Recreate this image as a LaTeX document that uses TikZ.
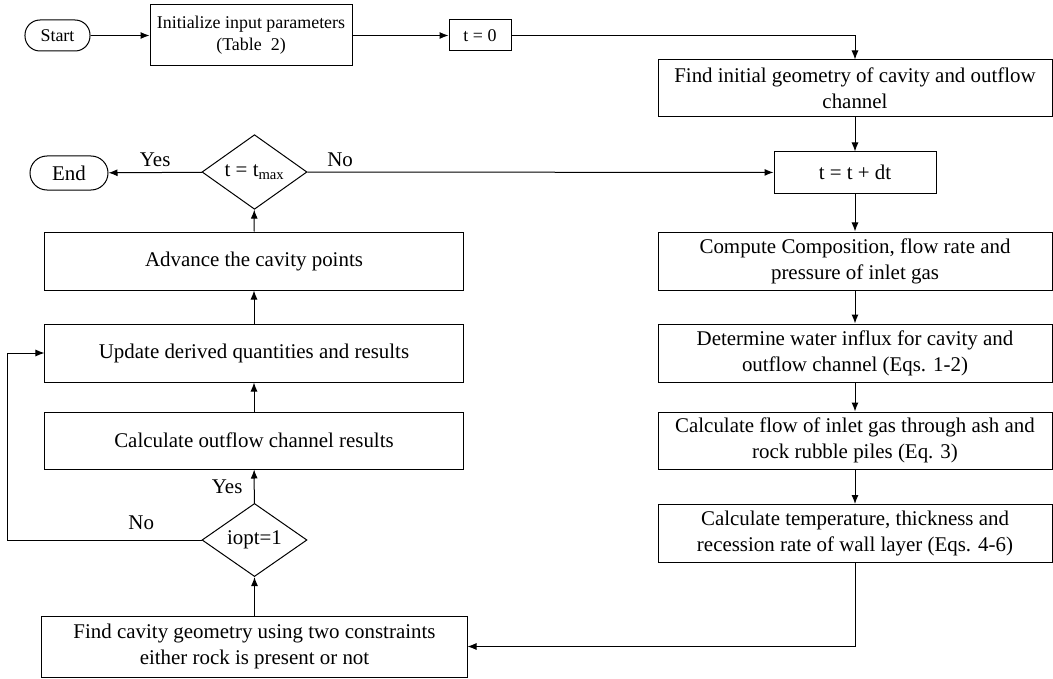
\documentclass[tikz,border=0pt]{standalone}
\usepackage{fontspec}
\setmainfont{Liberation Serif}
\usetikzlibrary{shapes.geometric,arrows.meta}

\begin{document}
\begin{tikzpicture}[x=1bp,y=-1bp,>={Latex[length=9bp,width=7bp]},line width=1bp,
        every node/.style={font=\fontsize{21}{26}\selectfont},
        small/.style={font=\fontsize{18}{22}\selectfont},
        box/.style={draw,align=center,inner sep=0pt},
        term/.style={draw,inner sep=0pt},
        decision/.style={draw,diamond,inner sep=0pt,minimum width=105bp}]
        \useasboundingbox (0,0) rectangle (1053,679);
        % top row
        \node[term,small,rounded corners=15bp,minimum width=65bp,minimum height=31bp] (start) at (57.5,35.5) {Start};
        \node[box,small,minimum width=202bp,minimum height=61bp] (init) at (251,35.5) {Initialize input parameters\\(Table\ \ 2)};
        \node[box,small,minimum width=62bp,minimum height=31bp] (tzero) at (480,35.5) {t = 0};
        % right column
        \node[box,minimum width=394bp,minimum height=57bp] (geom) at (855,88.5) {Find initial geometry of cavity and outflow\\channel};
        \node[box,minimum width=162bp,minimum height=41bp] (tstep) at (855,172.5) {t = t + dt};
        \node[box,minimum width=394bp,minimum height=58bp] (compute) at (855,261) {Compute Composition, flow rate and\\pressure of inlet gas};
        \node[box,minimum width=394bp,minimum height=58bp] (influx) at (855,353) {Determine water influx for cavity and\\outflow channel (Eqs. 1-2)};
        \node[box,minimum width=394bp,minimum height=57bp] (ashflow) at (855,440.5) {Calculate flow of inlet gas through ash and\\rock rubble piles (Eq. 3)};
        \node[box,minimum width=394bp,minimum height=58bp] (wall) at (855,533.5) {Calculate temperature, thickness and\\recession rate of wall layer (Eqs. 4-6)};
        % left column
        \node[decision,minimum height=70bp] (tmax) at (254.5,172) {t = t\textsubscript{max}};
        \node[term,rounded corners=17bp,minimum width=78bp,minimum height=34bp] (end) at (69,173) {End};
        \node[box,minimum width=418bp,minimum height=58bp] (advance) at (254,261) {Advance the cavity points};
        \node[box,minimum width=418bp,minimum height=58bp] (update) at (254,353) {Update derived quantities and results};
        \node[box,minimum width=418bp,minimum height=57bp] (outflow) at (254,440.5) {Calculate outflow channel results};
        \node[decision,minimum height=60bp] (iopt) at (254.5,540) {iopt=1};
        \node[box,minimum width=425bp,minimum height=61bp] (cavgeom) at (254.5,646.5) {Find cavity geometry using two constraints\\either rock is present or not};
        \coordinate (loop) at (7,353);
        % connectors
        \draw[->] (start) -- (init);
        \draw[->] (init) -- (tzero);
        \draw[->] (tzero) -| (geom);
        \draw[->] (geom) -- (tstep);
        \draw[->] (tstep) -- (compute);
        \draw[->] (compute) -- (influx);
        \draw[->] (influx) -- (ashflow);
        \draw[->] (ashflow) -- (wall);
        \draw[->] (wall.south) |- (cavgeom.east);
        \draw[->] (cavgeom) -- (iopt);
        \draw[->] (iopt) -- node[left=8bp] {Yes} (outflow);
        \draw[->] (iopt.west) -- node[above=6bp,pos=0.31] {No} (iopt.west -| loop) |- (update.west);
        \draw[->] (outflow) -- (update);
        \draw[->] (update) -- (advance);
        \draw[->] (advance) -- (tmax);
        \draw[->] (tmax) -- node[above=2bp] {Yes} (end);
        \draw[->] (tmax) -- node[above=2bp,pos=0.07] {No} (tstep);
    \end{tikzpicture}
\end{document}
